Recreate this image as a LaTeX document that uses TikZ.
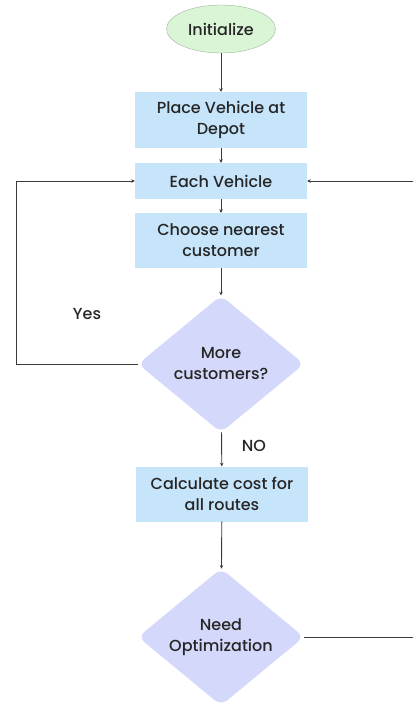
\documentclass[tikz,border=0pt]{standalone}
\usepackage{fontspec}
\setmainfont{Poppins}[UprightFont = * Medium]
\usetikzlibrary{shapes.geometric,arrows.meta}
\definecolor{startgreen}{HTML}{D9F5D6}
\definecolor{startedge}{HTML}{9DB89A}
\definecolor{stepblue}{HTML}{C6E4FA}
\definecolor{askviolet}{HTML}{D4D8FA}
\definecolor{linegray}{HTML}{3A3A3A}
\tikzset{
    startnode/.style = {ellipse, draw = startedge, fill = startgreen, minimum width = 109pt, minimum height = 48pt, inner sep = 0pt},
    stepbox/.style = {rectangle, fill = stepblue, minimum width = 172pt, inner sep = 0pt, align = center},
    asknode/.style = {diamond, fill = askviolet, minimum width = 166pt, minimum height = 137pt, aspect = 1.21, inner sep = 0pt, rounded corners = 8pt, align = center},
    flow/.style = {draw = linegray, line width = 0.9pt, -{Stealth[length = 3.5pt, width = 3.5pt]}}
}
\begin{document}
\begin{tikzpicture}[x = 1pt, y = -1pt, font = \fontsize{16}{21}\selectfont, text = black!85]
            \useasboundingbox (0, 0) rectangle (413, 706);
            \clip (0, 0) rectangle (413, 706);
            \node [startnode] (init) at (221, 29) {Initialize};
            \node [stepbox, minimum height = 56pt] (depot) at (221, 120) {Place Vehicle at\\Depot};
            \node [stepbox, minimum height = 36pt] (vehicle) at (221, 181) {Each Vehicle};
            \node [stepbox, minimum height = 55pt] (nearest) at (221, 240.5) {Choose nearest\\customer};
            \node [asknode] (more) at (221, 364) {More\\customers?};
            \node [stepbox, minimum height = 55pt] (cost) at (222, 494) {Calculate cost for\\all routes};
            \node [asknode] (optim) at (221, 637) {Need\\Optimization};

            \coordinate (leftdown) at (16, 364);
            \coordinate (leftup) at (16, 181);
            \coordinate (rightdown) at (440, 637);
            \coordinate (rightup) at (440, 181);

            \draw [flow] (init) -- (depot);
            \draw [flow] (depot) -- (vehicle);
            \draw [flow] (vehicle) -- (nearest);
            \draw [flow] (nearest) -- (more);
            \draw [flow] (more) -- (cost);
            \draw [flow] (cost) -- (optim);

            \draw [flow] (more.west) -- (leftdown) -- (leftup) -- (vehicle.west);
            \draw [flow] (optim.east) -- (rightdown) -- (rightup) -- (vehicle.east);

            \node (yes) at (87, 314) {Yes};
            \node (no) at (254, 446) {NO};
        \end{tikzpicture}
\end{document}
